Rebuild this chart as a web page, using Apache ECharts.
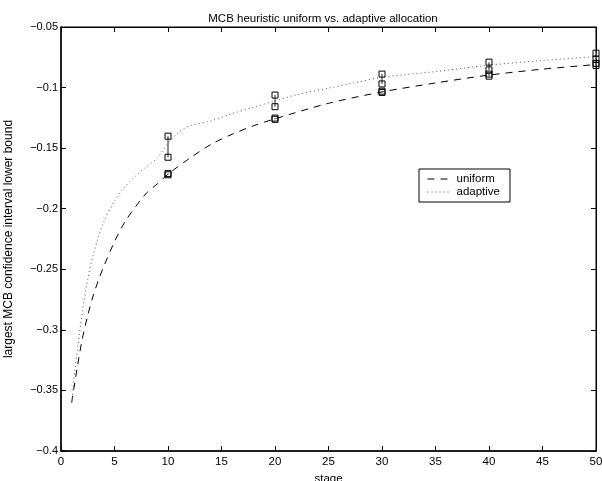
<!DOCTYPE html>
<html>
<head>
<meta charset="utf-8">
<script src="https://cdn.jsdelivr.net/npm/echarts@6/dist/echarts.min.js"></script>
<style>
  html, body { margin: 0; padding: 0; background: #fff; }
  #chart { width: 602px; height: 481px; }
</style>
</head>
<body>
<div id="chart"></div>
<script>
// Largest MCB confidence interval lower bound per stage, uniform vs adaptive allocation
const uniformStage = [1, 1.5, 2, 2.5, 3, 3.5, 4, 5, 6, 7, 8, 9, 10, 12, 14, 16, 18, 20, 25, 30, 35, 40, 45, 50];
const uniformBound = [-0.360, -0.332, -0.307, -0.288, -0.272, -0.259, -0.2476, -0.2272, -0.2105, -0.198, -0.187, -0.1795, -0.1715,
  -0.1585, -0.147, -0.1385, -0.1315, -0.1258, -0.113, -0.1036, -0.0962, -0.0897, -0.0848, -0.0810];

const adaptiveStage = [1, 1.3, 1.6, 2, 2.5, 3, 3.5, 4, 5, 6, 7, 8, 9, 10, 11, 12, 14, 16, 18, 20, 22, 25, 27.5, 30, 35, 40, 45, 50];
const adaptiveBound = [-0.360, -0.333, -0.312, -0.285, -0.258, -0.2385, -0.2235, -0.2107, -0.1938, -0.1816, -0.1728, -0.1654, -0.158,
  -0.146, -0.137, -0.1317, -0.1275, -0.1215, -0.1162, -0.111, -0.106, -0.1005, -0.096, -0.0915, -0.0868, -0.0815, -0.0777, -0.0744];

// Interval end points at the checkpoint stages
const checkStages = [10, 20, 30, 40, 50];
const adaptiveHigh = [-0.1401, -0.1062, -0.0889, -0.0790, -0.0716];
const adaptiveLow = [-0.1575, -0.1158, -0.0970, -0.0854, -0.0766];
const uniformHigh = [-0.1710, -0.1252, -0.1030, -0.0889, -0.0800];
const uniformLow = [-0.1720, -0.1262, -0.1040, -0.0906, -0.0817];

const FONT = '"Liberation Sans", Arial, Helvetica, sans-serif';

function pairs(xs, ys) { return xs.map((x, i) => [x, ys[i]]); }
function intervals(xs, hi, lo) { return xs.map((x, i) => [x, hi[i], lo[i]]); }

function fmtY(v) {
  const r = Math.round(v * 100) / 100;
  return (r < 0 ? '\u2212' : '') + String(Math.abs(r));
}

function renderInterval(params, api) {
  const x = api.value(0);
  const p1 = api.coord([x, api.value(1)]);
  const p2 = api.coord([x, api.value(2)]);
  const s = 6;
  const box = (p) => ({
    type: 'rect',
    shape: { x: p[0] - s / 2, y: p[1] - s / 2, width: s, height: s },
    style: { fill: null, stroke: '#000', lineWidth: 1 }
  });
  return {
    type: 'group',
    children: [
      { type: 'line', shape: { x1: p1[0], y1: p1[1], x2: p2[0], y2: p2[1] },
        style: { stroke: '#6a6a6a', lineWidth: 1.5 } },
      box(p1),
      box(p2)
    ]
  };
}

const chart = echarts.init(document.getElementById('chart'), null, { renderer: 'canvas' });

const xCommon = { type: 'value', min: 0, max: 50, interval: 5 };
const yCommon = { type: 'value', min: -0.4, max: -0.05, interval: 0.05 };

chart.setOption({
  animation: false,
  backgroundColor: '#fff',
  textStyle: { fontFamily: FONT },
  title: {
    text: 'MCB heuristic uniform vs. adaptive allocation',
    left: 318,
    top: 8,
    textAlign: 'center',
    textStyle: { fontFamily: FONT, fontSize: 11.5, fontWeight: 'normal', color: '#000' }
  },
  grid: {
    left: 61, right: 6, top: 27, bottom: 30,
    containLabel: false,
    outerBoundsMode: 'none',
    show: true, borderColor: '#000', borderWidth: 1, backgroundColor: 'transparent'
  },
  legend: {
    data: ['uniform', 'adaptive'],
    orient: 'vertical',
    left: 419,
    top: 169,
    padding: [4, 10, 4, 8],
    itemGap: 1,
    itemWidth: 21,
    itemHeight: 13,
    backgroundColor: '#fff',
    borderColor: '#000',
    borderWidth: 1,
    borderRadius: 0,
    itemStyle: { color: 'rgba(0,0,0,0)', borderWidth: 0, opacity: 0 },
    lineStyle: { width: 1 },
    textStyle: { fontFamily: FONT, fontSize: 11.5, color: '#000', padding: [0, 0, 0, 3] }
  },
  xAxis: [
    Object.assign({}, xCommon, {
      position: 'bottom',
      name: 'stage',
      nameLocation: 'middle',
      nameGap: 15,
      nameTextStyle: { fontFamily: FONT, fontSize: 11.5, color: '#000' },
      axisLine: { show: true, onZero: false, lineStyle: { color: '#000', width: 1.5 } },
      axisTick: { show: true, inside: true, length: 5, lineStyle: { color: '#000' } },
      axisLabel: { fontFamily: FONT, fontSize: 11.5, color: '#000', margin: 5 },
      splitLine: { show: false }
    }),
    Object.assign({}, xCommon, {
      position: 'top',
      axisLine: { show: true, onZero: false, lineStyle: { color: '#000', width: 1 } },
      axisTick: { show: true, inside: true, length: 5, lineStyle: { color: '#000' } },
      axisLabel: { show: false },
      splitLine: { show: false }
    })
  ],
  yAxis: [
    Object.assign({}, yCommon, {
      position: 'left',
      name: 'largest MCB confidence interval lower bound',
      nameLocation: 'middle',
      nameGap: 46,
      nameTextStyle: { fontFamily: FONT, fontSize: 12, color: '#000' },
      axisLine: { show: true, onZero: false, lineStyle: { color: '#000', width: 1.5 } },
      axisTick: { show: true, inside: true, length: 5, lineStyle: { color: '#000' } },
      axisLabel: { fontFamily: FONT, fontSize: 11, color: '#000', margin: 3, formatter: fmtY },
      splitLine: { show: false }
    }),
    Object.assign({}, yCommon, {
      position: 'right',
      axisLine: { show: true, onZero: false, lineStyle: { color: '#000', width: 1 } },
      axisTick: { show: true, inside: true, length: 5, lineStyle: { color: '#000' } },
      axisLabel: { show: false },
      splitLine: { show: false }
    })
  ],
  series: [
    {
      name: 'uniform',
      type: 'line',
      data: pairs(uniformStage, uniformBound),
      smooth: 0.3,
      symbol: 'none',
      color: '#000',
      lineStyle: { color: '#000', width: 1, type: [7, 6] },
      z: 3
    },
    {
      name: 'adaptive',
      type: 'line',
      data: pairs(adaptiveStage, adaptiveBound),
      smooth: 0.3,
      symbol: 'none',
      color: '#555',
      lineStyle: { color: '#555', width: 1, type: [1, 3] },
      z: 3
    },
    {
      name: 'adaptive interval',
      type: 'custom',
      renderItem: renderInterval,
      data: intervals(checkStages, adaptiveHigh, adaptiveLow),
      encode: { x: 0, y: [1, 2] },
      clip: false,
      z: 4
    },
    {
      name: 'uniform interval',
      type: 'custom',
      renderItem: renderInterval,
      data: intervals(checkStages, uniformHigh, uniformLow),
      encode: { x: 0, y: [1, 2] },
      clip: false,
      z: 5
    }
  ]
});
</script>
</body>
</html>
